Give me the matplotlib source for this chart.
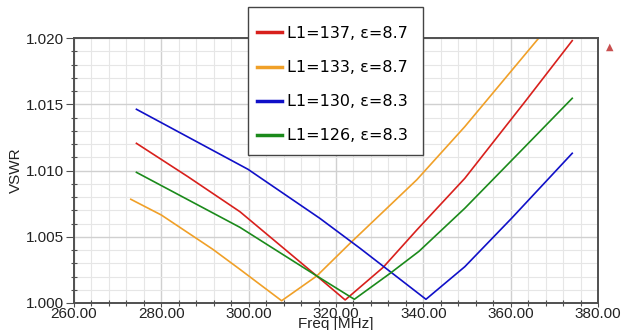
import matplotlib
matplotlib.use("Agg")
import matplotlib.pyplot as plt
from matplotlib.patches import Rectangle
from matplotlib.ticker import MultipleLocator, FormatStrFormatter

# VSWR vs frequency
labels = ["L1=137, \u03b5=8.7", "L1=133, \u03b5=8.7", "L1=130, \u03b5=8.3", "L1=126, \u03b5=8.3"]
colors = ["#d8201c", "#f0a028", "#1010c8", "#1b8a1b"]

f_red = [274.3, 286.1, 298.0, 315.6, 322.1, 330.8, 338.5, 349.5, 363.3, 374.1]
v_red = [1.01205, 1.00953, 1.00689, 1.00204, 1.00023, 1.00269, 1.00551, 1.00941, 1.01520, 1.01980]

f_org = [273.0, 280.0, 291.8, 298.0, 307.55, 315.6, 323.2, 338.5, 349.5, 366.7, 368.0]
v_org = [1.00783, 1.00664, 1.00405, 1.00254, 1.00017, 1.00204, 1.00450, 1.00930, 1.01331, 1.02010, 1.02060]

f_blu = [274.3, 299.85, 316.3, 325.5, 340.6, 349.5, 360.2, 374.1]
v_blu = [1.01462, 1.01009, 1.00639, 1.00413, 1.00028, 1.00274, 1.00639, 1.01130]

f_grn = [274.3, 298.0, 315.6, 324.2, 332.4, 339.0, 349.5, 363.3, 374.1]
v_grn = [1.00986, 1.00571, 1.00204, 1.00028, 1.00224, 1.00390, 1.00715, 1.01180, 1.01545]

series = [(f_red, v_red), (f_org, v_org), (f_blu, v_blu), (f_grn, v_grn)]

plt.rcParams['font.family'] = ['Liberation Sans', 'DejaVu Sans']

W, H = 622, 330
fig = plt.figure(figsize=(W/100, H/100), dpi=100)
ax = fig.add_axes([74/W, 1-303/H, 524/W, 265/H])

for (f, v), c, lab in zip(series, colors, labels):
    ax.plot(f, v, color=c, lw=1.2, label=lab)

ax.set_xlim(260, 380)
ax.set_ylim(1.000, 1.020)
ax.xaxis.set_major_locator(MultipleLocator(20))
ax.xaxis.set_minor_locator(MultipleLocator(4))
ax.yaxis.set_major_locator(MultipleLocator(0.005))
ax.yaxis.set_minor_locator(MultipleLocator(0.001))
ax.xaxis.set_major_formatter(FormatStrFormatter('%.2f'))
ax.yaxis.set_major_formatter(FormatStrFormatter('%.3f'))

ax.grid(which='major', color='#d0d0d0', lw=1.0)
ax.grid(which='minor', color='#e6e6e6', lw=0.8)
ax.set_axisbelow(True)

for s in ax.spines.values():
    s.set_color('#505050')
    s.set_linewidth(1.4)

ax.tick_params(which='major', direction='out', length=6, width=0.8, color='#505050',
               labelsize=11, labelcolor='#222222', pad=1)
ax.tick_params(which='minor', direction='inout', length=5, width=0.8, color='#505050')
ax.tick_params(axis='x', which='major', length=3, pad=0)

ax.set_xlabel('Freq [MHz]', fontsize=11, color='#222222', labelpad=-3)
ax.set_ylabel('VSWR', fontsize=11, color='#222222', labelpad=2)

# legend box drawn separately so its padding can differ in x and y
box = Rectangle((248/W, 1-155/H), 175/W, 148/H, transform=fig.transFigure,
                facecolor='white', edgecolor='#444444', lw=1.0,
                clip_on=False, zorder=4.9)
ax.add_patch(box)

leg = ax.legend(loc='upper left', bbox_to_anchor=(257/W, 1-26/H),
                bbox_transform=fig.transFigure, borderaxespad=0,
                prop={'family': 'DejaVu Sans', 'size': 11.5},
                frameon=False, handlelength=1.55, handletextpad=0.3,
                labelspacing=1.2, borderpad=0)
for line in leg.get_lines():
    line.set_linewidth(2.5)

# small logo mark in the top right corner
fig.text(610/W, 1-47/H, '\u25b2', color='#c85050', fontsize=7,
         ha='center', va='center', family='DejaVu Sans')

fig.savefig('out.png', dpi=100)
